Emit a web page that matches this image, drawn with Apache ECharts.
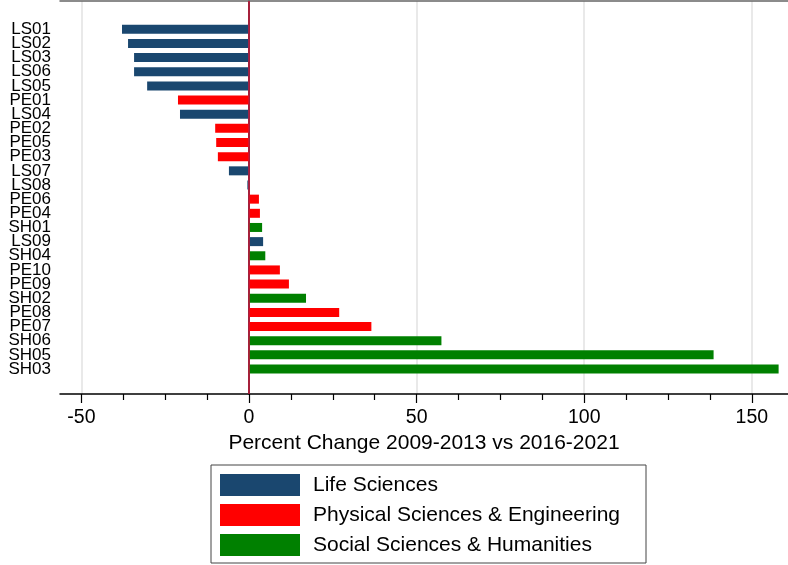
<!DOCTYPE html>
<html>
<head>
<meta charset="utf-8">
<script src="https://cdn.jsdelivr.net/npm/echarts@6/dist/echarts.min.js"></script>
<style>html,body{margin:0;padding:0;background:#fff}#c{width:788px;height:565px}</style>
</head>
<body>
<div id="c"></div>
<script>
const categories = ['LS01','LS02','LS03','LS06','LS05','PE01','LS04','PE02','PE05','PE03','LS07','LS08','PE06','PE04','SH01','LS09','SH04','PE10','PE09','SH02','PE08','PE07','SH06','SH05','SH03'];
const values = [-37.9,-36.1,-34.3,-34.3,-30.4,-21.2,-20.6,-10.1,-9.8,-9.3,-6.0,-0.5,2.95,3.25,3.9,4.2,4.85,9.2,11.9,17.0,26.9,36.5,57.4,138.6,158.0];
const groupCodes = ['LS','PE','SH'];
const groupNames = ['Life Sciences','Physical Sciences & Engineering','Social Sciences & Humanities'];
const groupColors = ['#1a476f','#ff0000','#008000'];
const majorTicks = [-50,0,50,100,150];
const minorTicks = [-37.5,-25,-12.5,12.5,25,37.5,62.5,75,87.5,112.5,125,137.5];
const gridLineValues = [-50,50,100,150];
const xTitle = 'Percent Change 2009-2013 vs 2016-2021';

const XMIN = -56.4, XMAX = 160.8;
const FONT = 'Liberation Sans, Arial, Helvetica, sans-serif';

const barSeries = groupCodes.map((g, gi) => ({
  name: groupNames[gi],
  type: 'bar',
  xAxisIndex: 3,
  yAxisIndex: 1,
  barWidth: 9,
  barGap: '-100%',
  itemStyle: { color: groupColors[gi] },
  z: 3,
  data: categories.map((c, i) => c.startsWith(g) ? values[i] : '-')
}));

const chart = echarts.init(document.getElementById('c'), null, { renderer: 'canvas' });
chart.setOption({
  animation: false,
  backgroundColor: '#ffffff',
  textStyle: { fontFamily: FONT },
  grid: [
    { left: 60, right: 0, top: 1, bottom: 171 },
    { left: 60, right: 0, top: 22.2, bottom: 188.9 }
  ],
  xAxis: [
    { gridIndex: 0, type: 'value', min: XMIN, max: XMAX, position: 'bottom',
      axisLine: { show: true, onZero: false, lineStyle: { color: '#000', width: 1.5 } },
      axisTick: { show: true, customValues: majorTicks, length: 9, lineStyle: { color: '#000', width: 1.2 } },
      axisLabel: { show: true, customValues: majorTicks, fontSize: 19.5, color: '#000', margin: 14, fontFamily: FONT },
      splitLine: { show: false },
      name: xTitle, nameLocation: 'middle', nameGap: 35,
      nameTextStyle: { fontSize: 21, color: '#000', fontFamily: FONT } },
    { gridIndex: 0, type: 'value', min: XMIN, max: XMAX, position: 'bottom',
      axisLine: { show: false },
      axisTick: { show: true, customValues: minorTicks, length: 6, lineStyle: { color: '#000', width: 1.2 } },
      axisLabel: { show: false }, splitLine: { show: false } },
    { gridIndex: 0, type: 'value', min: XMIN, max: XMAX, position: 'top',
      axisLine: { show: true, onZero: false, lineStyle: { color: '#666', width: 1.5 } },
      axisTick: { show: false }, axisLabel: { show: false }, splitLine: { show: false } },
    { gridIndex: 1, type: 'value', min: XMIN, max: XMAX, show: false, splitLine: { show: false } }
  ],
  yAxis: [
    { gridIndex: 0, type: 'value', min: 0, max: 1,
      axisLine: { show: true, lineStyle: { color: '#000', width: 1.5 } },
      axisTick: { show: false }, axisLabel: { show: false }, splitLine: { show: false } },
    { gridIndex: 1, type: 'category', data: categories, inverse: true,
      axisLine: { show: false }, axisTick: { show: false },
      axisLabel: { interval: 0, fontSize: 17, color: '#000', margin: 9, fontFamily: FONT, lineHeight: 14 },
      splitLine: { show: false } }
  ],
  legend: {
    orient: 'vertical',
    left: 211, top: 465,
    data: groupNames,
    icon: 'rect',
    itemWidth: 80, itemHeight: 22, itemGap: 8,
    padding: [9, 26, 7, 9],
    borderColor: '#444', borderWidth: 1,
    selectedMode: false,
    textStyle: { fontSize: 21, color: '#000', fontFamily: FONT, padding: [0, 0, 0, 8] }
  },
  series: [
    { type: 'line', xAxisIndex: 0, yAxisIndex: 0, data: [], silent: true, z: 0,
      markLine: { silent: true, symbol: 'none', label: { show: false }, z: 0,
        lineStyle: { color: '#e2e2e2', width: 1.5, type: 'solid' },
        data: gridLineValues.map(v => ({ xAxis: v })) } },
    ...barSeries,
    { type: 'line', xAxisIndex: 0, yAxisIndex: 0, data: [], silent: true, z: 10,
      markLine: { silent: true, symbol: 'none', label: { show: false }, z: 10,
        lineStyle: { color: '#c8163a', width: 1.5, type: 'solid' },
        data: [{ xAxis: 0 }] } }
  ]
});
</script>
</body>
</html>
